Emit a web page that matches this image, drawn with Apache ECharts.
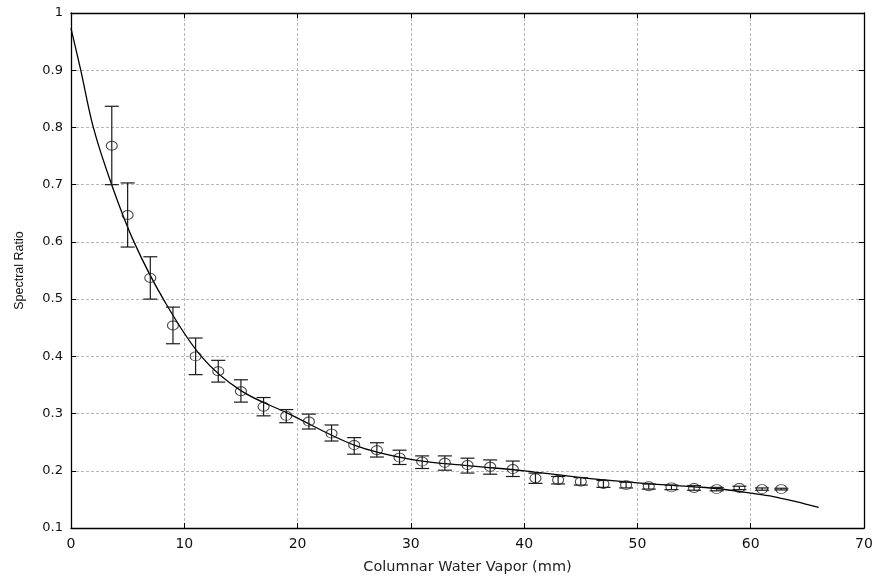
<!DOCTYPE html>
<html>
<head>
<meta charset="utf-8">
<script src="https://cdn.jsdelivr.net/npm/echarts@6/dist/echarts.min.js"></script>
<style>html,body{margin:0;padding:0;background:#fff;}#c{width:880px;height:580px;}</style>
</head>
<body>
<div id="c"></div>
<script>
// Measured data points (columnar water vapor, mm) and spectral ratio
var vaporX = [3.6, 5, 7, 9, 11, 13, 15, 17, 19, 21, 23, 25, 27, 29, 31, 33, 35, 37, 39, 41, 43, 45, 47, 49, 51, 53, 55, 57, 59, 61, 62.7];
var ratioY = [0.768, 0.647, 0.537, 0.454, 0.400, 0.374, 0.339, 0.312, 0.296, 0.286, 0.265, 0.245, 0.236, 0.223, 0.216, 0.214, 0.210, 0.207, 0.203, 0.187, 0.184, 0.181, 0.177, 0.175, 0.173, 0.171, 0.170, 0.168, 0.170, 0.168, 0.168];
var errUpper = [0.837, 0.703, 0.574, 0.486, 0.432, 0.393, 0.359, 0.328, 0.307, 0.299, 0.280, 0.258, 0.249, 0.236, 0.226, 0.226, 0.222, 0.219, 0.217, 0.196, 0.190, 0.188, 0.183, 0.180, 0.177, 0.175, 0.174, 0.171, 0.173, 0.170, 0.1695];
var errLower = [0.700, 0.591, 0.500, 0.422, 0.368, 0.355, 0.320, 0.296, 0.284, 0.273, 0.252, 0.229, 0.224, 0.211, 0.204, 0.201, 0.196, 0.194, 0.190, 0.178, 0.177, 0.175, 0.171, 0.170, 0.168, 0.167, 0.166, 0.165, 0.167, 0.166, 0.1665];
// Fitted curve
var fitX = [0, 0.86, 1.97, 3.59, 5.56, 8.15, 11.5, 15, 19.2, 25, 30, 35, 40, 45, 50, 55, 57, 60, 62, 64, 66];
var fitY = [0.973, 0.9, 0.8, 0.7, 0.6, 0.5, 0.4, 0.34, 0.3, 0.245, 0.220, 0.209, 0.200, 0.188, 0.179, 0.172, 0.169, 0.161, 0.155, 0.146, 0.136];
// Axis ticks
var xTicks = {min: 0, max: 70, interval: 10};
var yTicks = {min: 0.1, max: 1, interval: 0.1};

var FONT = "'Liberation Sans', Arial, sans-serif";
var WIDE = "'DejaVu Sans', sans-serif";
var chart = echarts.init(document.getElementById('c'), null, {renderer: 'canvas'});

var fitData = fitX.map(function (x, i) { return [x, fitY[i]]; });
var ptData = vaporX.map(function (x, i) { return [x, ratioY[i]]; });
var errData = vaporX.map(function (x, i) { return [x, errLower[i], errUpper[i]]; });

var gridLine = {show: true, lineStyle: {color: '#b8b8b8', width: 1, type: [3, 2]}};
var boxLine = {show: true, onZero: false, lineStyle: {color: '#000', width: 1.3}};
var tickIn = {show: true, inside: true, length: 5, lineStyle: {color: '#000', width: 1}};

chart.setOption({
  animation: false,
  backgroundColor: '#fff',
  grid: {left: 71, right: 16, top: 13, bottom: 50, containLabel: false},
  xAxis: [{
    type: 'value', position: 'bottom',
    min: xTicks.min, max: xTicks.max, interval: xTicks.interval,
    name: 'Columnar Water Vapor (mm)', nameLocation: 'middle', nameGap: 32,
    nameTextStyle: {color: '#222', fontSize: 14.5, fontFamily: WIDE},
    axisLine: boxLine, axisTick: tickIn,
    axisLabel: {color: '#111', fontSize: 14, fontFamily: WIDE, margin: 9},
    splitLine: gridLine
  }, {
    type: 'value', position: 'top',
    min: xTicks.min, max: xTicks.max, interval: xTicks.interval,
    axisLine: boxLine, axisTick: tickIn, axisLabel: {show: false}, splitLine: {show: false}
  }],
  yAxis: [{
    type: 'value', position: 'left',
    min: yTicks.min, max: yTicks.max, interval: yTicks.interval,
    name: 'Spectral Ratio', nameLocation: 'middle', nameGap: 45, nameRotate: 90,
    nameTextStyle: {color: '#111', fontSize: 12.5, fontFamily: FONT},
    axisLine: boxLine, axisTick: tickIn,
    axisLabel: {color: '#111', fontSize: 13, fontFamily: WIDE, margin: 8,
      formatter: function (v) { return String(Math.round(v * 10) / 10); }},
    splitLine: gridLine
  }, {
    type: 'value', position: 'right',
    min: yTicks.min, max: yTicks.max, interval: yTicks.interval,
    axisLine: boxLine, axisTick: tickIn, axisLabel: {show: false}, splitLine: {show: false}
  }],
  series: [{
    type: 'line', name: 'fit', data: fitData, smooth: 0.35, showSymbol: false,
    lineStyle: {color: '#000', width: 1.3}, z: 3
  }, {
    type: 'custom', name: 'err', data: errData, z: 4,
    renderItem: function (params, api) {
      var x = api.value(0);
      var lo = api.coord([x, api.value(1)]);
      var hi = api.coord([x, api.value(2)]);
      var hw = 7;
      var st = {stroke: '#1a1a1a', lineWidth: 1.2};
      return {type: 'group', children: [
        {type: 'line', shape: {x1: lo[0], y1: lo[1], x2: hi[0], y2: hi[1]}, style: st},
        {type: 'line', shape: {x1: lo[0] - hw, y1: lo[1], x2: lo[0] + hw, y2: lo[1]}, style: st},
        {type: 'line', shape: {x1: hi[0] - hw, y1: hi[1], x2: hi[0] + hw, y2: hi[1]}, style: st}
      ]};
    }
  }, {
    type: 'scatter', name: 'points', data: ptData, symbol: 'circle', symbolSize: [11, 9], z: 5,
    itemStyle: {color: 'rgba(0,0,0,0)', borderColor: '#1a1a1a', borderWidth: 1}
  }]
});
</script>
</body>
</html>
